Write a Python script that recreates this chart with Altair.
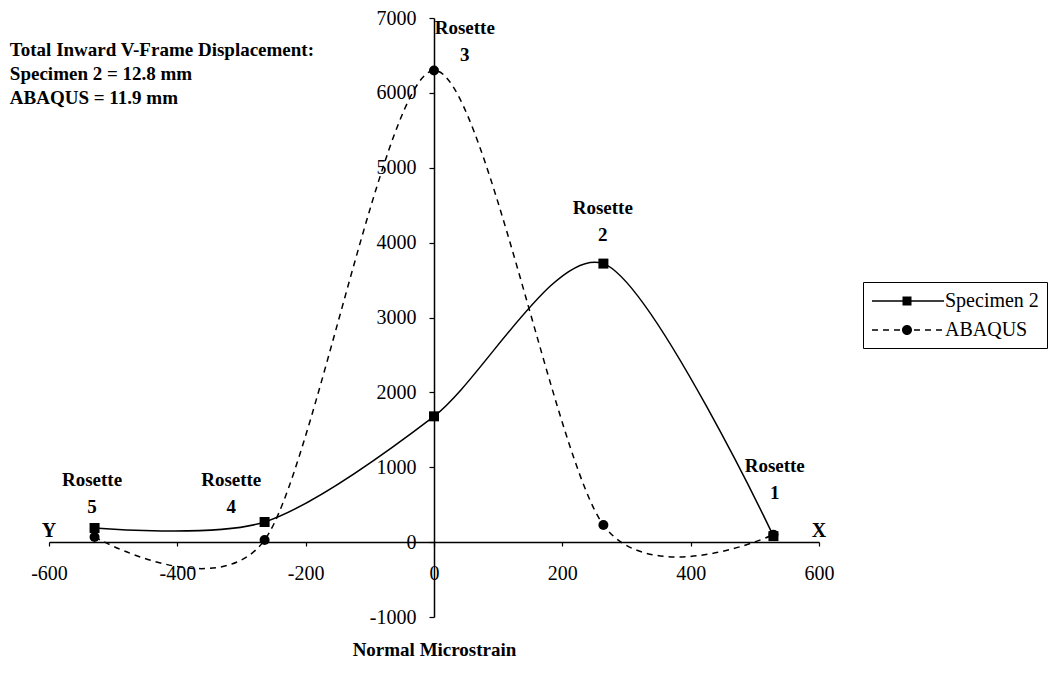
import altair as alt
import pandas as pd

# ---- data ----
positions = [-529, -264, 0, 264, 529]
specimen2 = [189, 269, 1680, 3720, 80]
abaqus = [69, 28, 6300, 229, 100]
series_names = ["Specimen 2", "ABAQUS"]

rosette_labels = ["Rosette\n5", "Rosette\n4", "Rosette\n3", "Rosette\n2", "Rosette\n1"]
rosette_x = [-533, -316, 48, 263, 531]
rosette_y = [829, 829, 6873, 4469, 1016]

note_text = "Total Inward V-Frame Displacement:\nSpecimen 2 = 12.8 mm\nABAQUS = 11.9 mm"
note_x = -661
note_y = 6573

end_labels = ["Y", "X"]
end_x = [-600, 600]

x_ticks = [-600, -400, -200, 0, 200, 400, 600]
y_ticks = [-1000, 0, 1000, 2000, 3000, 4000, 5000, 6000, 7000]

FONT = "Liberation Serif"

rows = []
for name, vals in zip(series_names, [specimen2, abaqus]):
    for xv, yv in zip(positions, vals):
        rows.append({"x": xv, "y": yv, "series": name})
df = pd.DataFrame(rows)

ros_df = pd.DataFrame({"x": rosette_x, "y": rosette_y, "label": rosette_labels})
note_df = pd.DataFrame({"x": [note_x], "y": [note_y], "label": [note_text]})
end_df = pd.DataFrame({"x": end_x, "y": [0, 0], "label": end_labels})

xscale = alt.Scale(domain=[-600, 600], nice=False, zero=False)
yscale = alt.Scale(domain=[-1000, 7000], nice=False, zero=False)

xaxis = alt.Axis(values=x_ticks, offset=-75, grid=False, tickSize=4, labelPadding=17,
                 labelFlush=False, labelExpr="'' + datum.value",
                 labelFont=FONT, labelFontSize=20, labelColor="black",
                 domainColor="black", tickColor="black", domainWidth=1.5, tickWidth=1.2,
                 title="Normal Microstrain", titleFont=FONT, titleFontSize=19,
                 titleFontWeight="bold", titleColor="black", titleY=107, titleBaseline="middle")
yaxis = alt.Axis(values=y_ticks, offset=-385, grid=False, tickSize=5, labelPadding=13,
                 labelFlush=False, labelExpr="'' + datum.value",
                 labelFont=FONT, labelFontSize=20, labelColor="black",
                 domainColor="black", tickColor="black", domainWidth=1.5, tickWidth=1.2,
                 title=None)


def rect(x0, x1, h=0.075):
    return f"M{x0},{-h}H{x1}V{h}H{x0}Z"


# legend glyphs (unit = 10 px): line (solid or dashed pieces) plus marker
sq_path = rect(-1, 6.2) + "M2.05,-0.45H2.95V0.45H2.05Z"
dashes = [(-1, -0.4), (0.1, 0.7), (1.2, 1.8), (3.2, 3.8), (4.3, 4.9), (5.4, 6.0)]
ci_path = "".join(rect(a, b) for a, b in dashes) + \
    "M2.0,0A0.5,0.5 0 1,0 3.0,0A0.5,0.5 0 1,0 2.0,0Z"

legend = alt.Legend(
    title=None, orient="none", legendX=814, legendY=264,
    strokeColor="black", fillColor="white", padding=8, cornerRadius=0,
    labelFont=FONT, labelFontSize=20, labelColor="black", labelOffset=52,
    symbolSize=400, rowPadding=8,
)

line_spec = alt.Chart(df).transform_filter(alt.datum.series == "Specimen 2").mark_line(
    interpolate="cardinal", tension=0.15, color="black", strokeWidth=1.5).encode(
    x=alt.X("x:Q", scale=xscale, axis=xaxis),
    y=alt.Y("y:Q", scale=yscale, axis=yaxis),
)

line_abq = alt.Chart(df).transform_filter(alt.datum.series == "ABAQUS").mark_line(
    interpolate="cardinal", tension=0.15, color="black", strokeWidth=1.5, strokeDash=[6, 5]).encode(
    x=alt.X("x:Q", scale=xscale),
    y=alt.Y("y:Q", scale=yscale),
)

sq_points = alt.Chart(df).transform_filter(alt.datum.series == "Specimen 2").mark_point(
    filled=True, color="black", opacity=1, size=100, shape="square").encode(
    x=alt.X("x:Q", scale=xscale), y=alt.Y("y:Q", scale=yscale))

ci_points = alt.Chart(df).transform_filter(alt.datum.series == "ABAQUS").mark_point(
    filled=True, color="black", opacity=1, size=100, shape="circle").encode(
    x=alt.X("x:Q", scale=xscale), y=alt.Y("y:Q", scale=yscale))

# legend carrier: draws nothing; its entries come from the explicit domain
legend_layer = alt.Chart(df).transform_filter("datum.x > 100000").mark_point(
    filled=True, color="black", opacity=1).encode(
    x=alt.X("x:Q", scale=xscale), y=alt.Y("y:Q", scale=yscale),
    shape=alt.Shape("series:N", scale=alt.Scale(domain=series_names, range=[sq_path, ci_path]),
                    legend=legend),
)

ros_text = alt.Chart(ros_df).mark_text(font=FONT, fontSize=19, fontWeight="bold", color="black",
                                       lineBreak="\n", lineHeight=27, align="center",
                                       baseline="middle").encode(
    x=alt.X("x:Q", scale=xscale), y=alt.Y("y:Q", scale=yscale), text="label:N")

note = alt.Chart(note_df).mark_text(font=FONT, fontSize=19, fontWeight="bold", color="black",
                                    lineBreak="\n", lineHeight=24, align="left",
                                    baseline="middle").encode(
    x=alt.X("x:Q", scale=xscale), y=alt.Y("y:Q", scale=yscale), text="label:N")

ends = alt.Chart(end_df).mark_text(font=FONT, fontSize=20, fontWeight="bold", color="black",
                                   align="center", baseline="middle", dy=-11).encode(
    x=alt.X("x:Q", scale=xscale), y=alt.Y("y:Q", scale=yscale), text="label:N")

chart = alt.layer(line_spec, line_abq, sq_points, ci_points, legend_layer, ros_text, note, ends).properties(
    width=770, height=599,
    padding={"left": 41, "top": 10, "right": 230, "bottom": 50},
    autosize=alt.AutoSizeParams(type="none"),
    background="white",
).configure_view(strokeWidth=0, stroke="transparent")

chart.save("out.html", embed_options={"renderer": "svg", "actions": False})
